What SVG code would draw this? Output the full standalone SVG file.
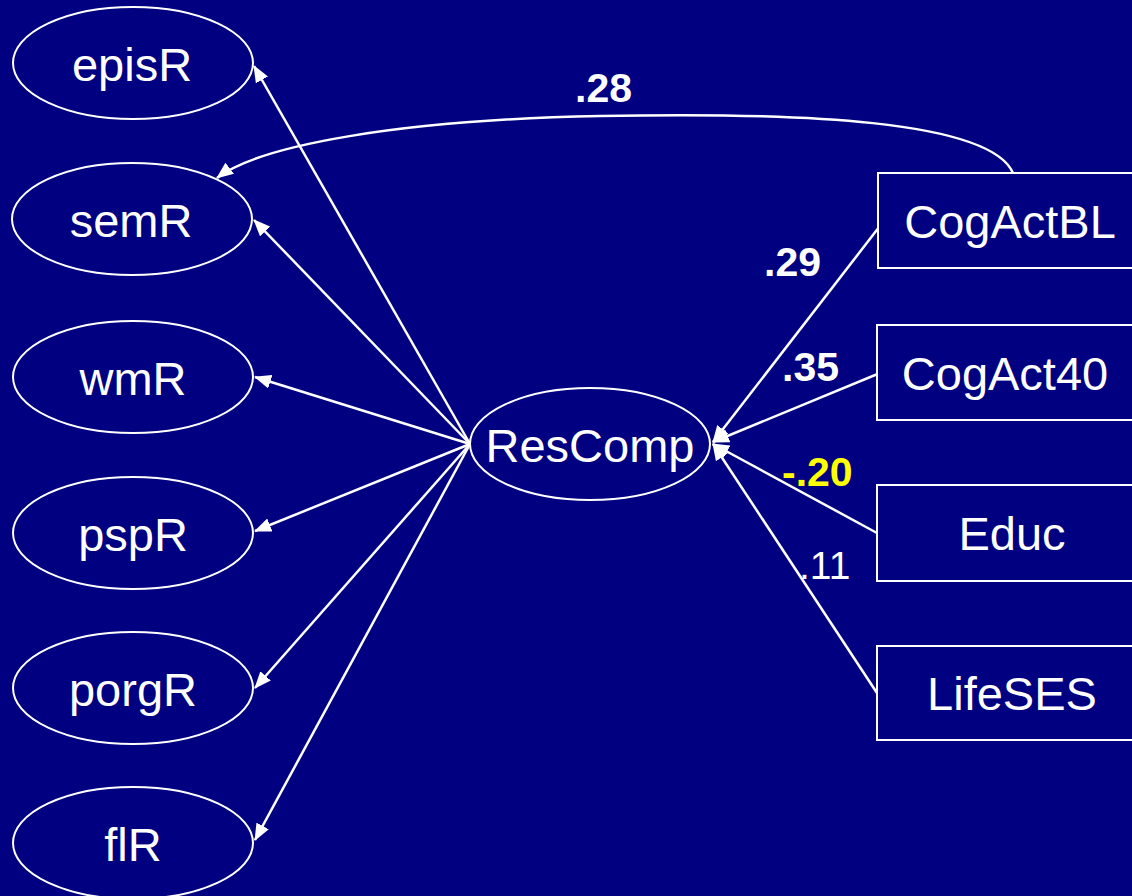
<svg xmlns="http://www.w3.org/2000/svg" width="1132" height="896" viewBox="0 0 1132 896">
  <style>
    .bg { fill: #000080; }
    .node { fill: #000080; stroke: #ffffff; stroke-width: 2; }
    .label { font-family: "Liberation Sans", Arial, sans-serif; font-size: 47px; fill: #ffffff; text-anchor: middle; }
    .edge { fill: none; stroke: #ffffff; stroke-width: 2.5; marker-end: url(#arrow); }
    .coef { font-family: "Liberation Sans", Arial, sans-serif; font-size: 41px; font-weight: bold; fill: #ffffff; }
    .coef-plain { font-family: "Liberation Sans", Arial, sans-serif; font-size: 39px; fill: #ffffff; }
    .coef-neg { fill: #ffff00; }
  </style>
  <defs>
    <marker id="arrow" markerUnits="userSpaceOnUse" markerWidth="18" markerHeight="14" refX="16" refY="7" orient="auto">
      <path d="M0,0 L17,7 L0,14 Z" fill="#ffffff"/>
    </marker>
  </defs>

  <rect class="bg" x="0" y="0" width="1132" height="896"/>

  <!-- paths and the correlation -->
  <g id="connectors">
    <line class="edge" x1="470" y1="444" x2="254" y2="66"/>
    <line class="edge" x1="470" y1="444" x2="254" y2="220"/>
    <line class="edge" x1="470" y1="444" x2="255" y2="377"/>
    <line class="edge" x1="470" y1="444" x2="255" y2="531"/>
    <line class="edge" x1="470" y1="444" x2="255" y2="688"/>
    <line class="edge" x1="470" y1="444" x2="255" y2="840"/>
    <line class="edge" x1="883" y1="222" x2="713" y2="442"/>
    <line class="edge" x1="880" y1="373" x2="713" y2="442"/>
    <line class="edge" x1="877" y1="533" x2="713" y2="444"/>
    <line class="edge" x1="877" y1="693" x2="713" y2="444"/>
    <path class="edge" d="M1013,173 C990,120 800,112 600,116 C400,120 260,145 217,178"/>
  </g>

  <g id="coefficients">
    <text class="coef" x="575" y="102">.28</text>
    <text class="coef" x="764" y="276">.29</text>
    <text class="coef" x="782" y="381">.35</text>
    <text class="coef coef-neg" x="782" y="486">-.20</text>
    <text class="coef-plain" x="799" y="579">.11</text>
  </g>

  <!-- indicators -->
  <g id="episR">
    <ellipse class="node" cx="133" cy="63" rx="120" ry="56"/>
    <text class="label" x="132" y="81">episR</text>
  </g>
  <g id="semR">
    <ellipse class="node" cx="132" cy="219" rx="120" ry="56"/>
    <text class="label" x="131" y="237">semR</text>
  </g>
  <g id="wmR">
    <ellipse class="node" cx="133" cy="377" rx="120" ry="56"/>
    <text class="label" x="133" y="395">wmR</text>
  </g>
  <g id="pspR">
    <ellipse class="node" cx="133" cy="533" rx="120" ry="56"/>
    <text class="label" x="133" y="551">pspR</text>
  </g>
  <g id="porgR">
    <ellipse class="node" cx="133" cy="688" rx="120" ry="56"/>
    <text class="label" x="133" y="706">porgR</text>
  </g>
  <g id="flR">
    <ellipse class="node" cx="133" cy="843" rx="120" ry="56"/>
    <text class="label" x="133" y="861">flR</text>
  </g>

  <!-- latent factor -->
  <g id="ResComp">
    <ellipse class="node" cx="590" cy="444" rx="120" ry="56"/>
    <text class="label" x="590" y="462">ResComp</text>
  </g>

  <!-- predictors -->
  <g id="CogActBL">
    <rect class="node" x="878" y="173" width="270" height="95"/>
    <text class="label" x="1010" y="238">CogActBL</text>
  </g>
  <g id="CogAct40">
    <rect class="node" x="877" y="325" width="270" height="95"/>
    <text class="label" x="1005" y="390">CogAct40</text>
  </g>
  <g id="Educ">
    <rect class="node" x="877" y="485" width="270" height="96"/>
    <text class="label" x="1012" y="550">Educ</text>
  </g>
  <g id="LifeSES">
    <rect class="node" x="877" y="646" width="270" height="94"/>
    <text class="label" x="1012" y="710">LifeSES</text>
  </g>
</svg>
